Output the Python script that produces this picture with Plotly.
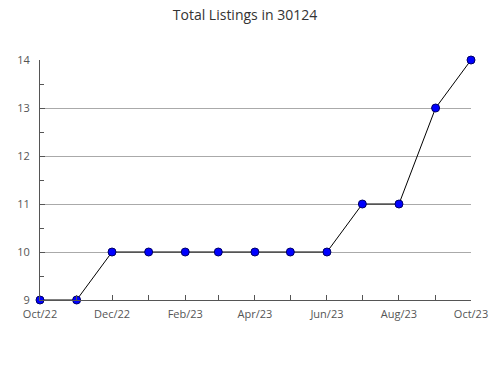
import plotly.graph_objects as go

months = ["2022-10-01", "2022-11-01", "2022-12-01", "2023-01-01", "2023-02-01",
          "2023-03-01", "2023-04-01", "2023-05-01", "2023-06-01", "2023-07-01",
          "2023-08-01", "2023-09-01", "2023-10-01"]
listings = [9, 9, 10, 10, 10, 10, 10, 10, 10, 11, 11, 13, 14]
y_ticks = [9, 10, 11, 12, 13, 14]

fig = go.Figure()
fig.add_trace(go.Scatter(
    x=months, y=listings, mode="lines+markers",
    line=dict(color="black", width=1),
    marker=dict(symbol="circle", size=8, color="#0000ff",
                line=dict(color="#000066", width=1)),
    cliponaxis=False, hoverinfo="x+y",
))

fig.update_layout(
    width=490, height=380,
    margin=dict(l=40, r=19, t=60, b=80),
    paper_bgcolor="white", plot_bgcolor="white",
    showlegend=False,
    font=dict(family="Open Sans", color="#555555", size=11),
    title=dict(text="Total Listings in 30124", x=0.5, xanchor="center",
               y=0.96, yanchor="middle",
               font=dict(family="Open Sans", size=14, color="#333333")),
)
fig.update_xaxes(
    type="date", range=["2022-10-01", "2023-10-01"], automargin=False,
    dtick="M2", tick0="2022-10-01", tickformat="%b/%y",
    ticks="inside", ticklen=5, tickcolor="#555555",
    showline=True, linecolor="#555555", linewidth=1,
    showgrid=False, zeroline=False, ticklabelstandoff=4,
    minor=dict(dtick="M1", tick0="2022-10-01", ticks="inside", ticklen=5,
               tickcolor="#555555", showgrid=False),
    tickfont=dict(size=11, color="#555555"),
)
fig.update_yaxes(
    range=[9, 14], tickvals=y_ticks, automargin=False,
    ticks="inside", ticklen=5, tickcolor="#555555",
    showline=True, linecolor="#555555", linewidth=1,
    showgrid=True, gridcolor="#aaaaaa", gridwidth=1, zeroline=False,
    ticklabelstandoff=7,
    minor=dict(dtick=0.5, ticks="inside", ticklen=4, tickcolor="#555555",
               showgrid=False),
    tickfont=dict(size=11, color="#555555"),
)

fig.write_html("out.html")
